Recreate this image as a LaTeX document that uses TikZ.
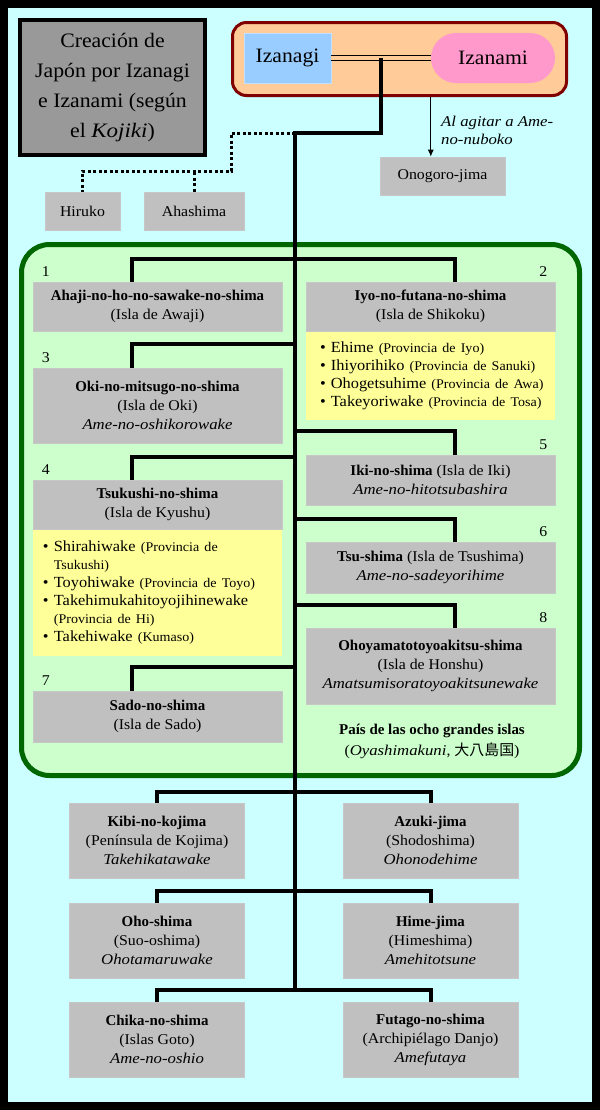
\documentclass[tikz,border=0pt]{standalone}
\usepackage{fontspec}
\setmainfont{Liberation Serif}[UprightFeatures={FakeStretch=1.06}, ItalicFeatures={FakeStretch=1.12}]
\newfontfamily\cjk{Noto Sans CJK JP}
\usetikzlibrary{positioning,arrows.meta}

\definecolor{fondo}{HTML}{CCFFFF}
\definecolor{gris}{HTML}{C0C0C0}
\definecolor{grisosc}{HTML}{999999}
\definecolor{naranja}{HTML}{FFCC99}
\definecolor{granate}{HTML}{800000}
\definecolor{azul}{HTML}{99CCFF}
\definecolor{rosa}{HTML}{FF99CC}
\definecolor{verde}{HTML}{CCFFCC}
\definecolor{verdeosc}{HTML}{006600}
\definecolor{amarillo}{HTML}{FFFF99}

\newcommand\prov[1]{{\fontsize{13.3}{18}\selectfont #1}}
\newcommand\vineta{\textbullet\ }

\tikzset{
	isla/.style={fill=gris, draw=black!22, line width=0.8bp, align=center, inner sep=2bp, font=\fontsize{15}{19}\selectfont},
	izq/.style={isla, minimum width=249bp},
	der/.style={isla, minimum width=249bp},
	abajo/.style={isla, minimum width=175bp, minimum height=75bp},
	lista/.style={fill=amarillo, text width=233bp, inner xsep=8bp, inner ysep=0bp, align=left, font=\fontsize{15.5}{18}\selectfont},
	num/.style={inner sep=0pt, font=\fontsize{15}{15}\selectfont},
	rama/.style={line width=4bp},
	punteo/.style={line width=3bp, dash pattern=on 3bp off 2.5bp},
	dios/.style={minimum height=50bp, inner sep=0pt, font=\fontsize{20.5}{24}\selectfont}
}

\begin{document}
\begin{tikzpicture}[x=1bp, y=-1bp]
	% marco
	\useasboundingbox (0,0) rectangle (600,1110);
	\fill [black] (0,0) rectangle (600,1110);
	\fill [fondo] (8,8) rectangle (592,1102);

	% titulo
	\node [fill=grisosc, draw=black, line width=4bp, minimum width=185bp, minimum height=135bp, align=center, font=\fontsize{20.6}{30}\selectfont] (tit) at (112.5,87.5) {Creación de\\Japón por Izanagi\\e Izanami (según\\el \textit{Kojiki})};

	% pareja
	\node [fill=naranja, draw=granate, line width=3bp, rounded corners=14bp, minimum width=334bp, minimum height=73bp] (par) at (399.5,59) {};
	\node [dios, fill=azul, draw=azul!60!white, line width=0.8bp, minimum width=87bp] (nagi) at (287.5,58) {Izanagi};
	\node [dios, fill=rosa, rounded corners=25bp, minimum width=124bp] (nami) at (493,58) {Izanami};
	\draw [line width=1.3bp, double=naranja, double distance=3.5bp] (nagi) -- (nami);

	% Onogoro-jima
	\node [isla, minimum width=125bp, minimum height=38bp] (ono) at (442.5,176) {Onogoro-jima};
	\draw [-{Latex[length=7bp,width=6bp]}, line width=0.8bp] (par.south -| nami.west) -- (ono.north -| nami.west);
	\node [anchor=north west, align=left, inner sep=0pt, font=\itshape\fontsize{15}{18}\selectfont] (agitar) at (441,116) {Al agitar a Ame-\\no-nuboko};

	% Hiruko y Ahashima
	\node [isla, minimum width=75bp, minimum height=38bp] (hir) at (82.5,211) {Hiruko};
	\node [isla, minimum width=100bp, minimum height=38bp] (aha) at (194,211) {Ahashima};

	% pais de las ocho grandes islas
	\draw [verdeosc, fill=verde, line width=5bp, rounded corners=28bp] (21.5,244.5) rectangle (579.5,775.5);

	% tronco
	\coordinate (boda) at (381,58);
	\coordinate (codo) at (295,133);
	\coordinate (t12) at (295,259);
	\coordinate (t3) at (295,344);
	\coordinate (t5) at (295,431);
	\coordinate (t4) at (295,457);
	\coordinate (t6) at (295,519);
	\coordinate (t8) at (295,605);
	\coordinate (t7) at (295,667);
	\coordinate (tA) at (295,792);
	\coordinate (tB) at (295,891);
	\coordinate (tC) at (295,990);
	\draw [rama] (boda) |- (codo) -- (tC);

	% hijos fallidos
	\coordinate (pt) at (231,171);
	\draw [punteo] (codo) -| (pt) -| (hir);
	\draw [punteo] (aha) -- (aha |- pt);

	% isla 1
	\node [izq, minimum height=49bp] (b1) at (157.5,306.5) {\textbf{Ahaji-no-ho-no-sawake-no-shima}\\(Isla de Awaji)};
	\node [num, above right=5bp and 9bp of b1.north west] (n1) {1};
	\draw [rama] (t12) -| ([xshift=-25.5bp]b1.north);

	% isla 2
	\node [der, minimum height=49bp] (b2) at (430.5,306.5) {\textbf{Iyo-no-futana-no-shima}\\(Isla de Shikoku)};
	\node [lista, minimum height=88bp, below=0pt of b2] (l2) {\hspace*{6bp}\vineta Ehime \prov{(Provincia de Iyo)}\\\hspace*{6bp}\vineta Ihiyorihiko \prov{(Provincia de Sanuki)}\\\hspace*{6bp}\vineta Ohogetsuhime \prov{(Provincia de Awa)}\\\hspace*{6bp}\vineta Takeyoriwake \prov{(Provincia de Tosa)}};
	\node [num, above left=5bp and 8bp of b2.north east] (n2) {2};
	\draw [rama] (t12) -| ([xshift=24.5bp]b2.north);

	% isla 3
	\node [izq, minimum height=75bp] (b3) at (157.5,405.5) {\textbf{Oki-no-mitsugo-no-shima}\\(Isla de Oki)\\\textit{Ame-no-oshikorowake}};
	\node [num, above right=5bp and 9bp of b3.north west] (n3) {3};
	\draw [rama] (t3) -| ([xshift=-25.5bp]b3.north);

	% isla 5
	\node [der, minimum height=50bp] (b5) at (430.5,480) {\textbf{Iki-no-shima} (Isla de Iki)\\\textit{Ame-no-hitotsubashira}};
	\node [num, above left=5bp and 8bp of b5.north east] (n5) {5};
	\draw [rama] (t5) -| ([xshift=24.5bp]b5.north);

	% isla 4
	\node [izq, minimum height=49bp] (b4) at (157.5,504.5) {\textbf{Tsukushi-no-shima}\\(Isla de Kyushu)};
	\node [lista, minimum height=126bp, below=0pt of b4] (l4) {\hspace*{2bp}\vineta Shirahiwake \prov{(Provincia de}\\\hspace*{2bp}\phantom{\vineta}\prov{Tsukushi)}\\\hspace*{2bp}\vineta Toyohiwake \prov{(Provincia de Toyo)}\\\hspace*{2bp}\vineta Takehimukahitoyojihinewake\\\hspace*{2bp}\phantom{\vineta}\prov{(Provincia de Hi)}\\\hspace*{2bp}\vineta Takehiwake \prov{(Kumaso)}};
	\node [num, above right=5bp and 9bp of b4.north west] (n4) {4};
	\draw [rama] (t4) -| ([xshift=-25.5bp]b4.north);

	% isla 6
	\node [der, minimum height=51bp] (b6) at (430.5,567.5) {\textbf{Tsu-shima} (Isla de Tsushima)\\\textit{Ame-no-sadeyorihime}};
	\node [num, above left=5bp and 8bp of b6.north east] (n6) {6};
	\draw [rama] (t6) -| ([xshift=24.5bp]b6.north);

	% isla 8
	\node [der, minimum height=76bp] (b8) at (430.5,666) {\textbf{Ohoyamatotoyoakitsu-shima}\\(Isla de Honshu)\\\textit{Amatsumisoratoyoakitsunewake}};
	\node [num, above left=5bp and 8bp of b8.north east] (n8) {8};
	\draw [rama] (t8) -| ([xshift=24.5bp]b8.north);

	% isla 7
	\node [izq, minimum height=51bp] (b7) at (157.5,716.5) {\textbf{Sado-no-shima}\\(Isla de Sado)};
	\node [num, above right=5bp and 9bp of b7.north west] (n7) {7};
	\draw [rama] (t7) -| ([xshift=-25.5bp]b7.north);

	\node [align=center, font=\fontsize{15}{21}\selectfont] (ocho) at (432,741) {\textbf{País de las ocho grandes islas}\\(\textit{Oyashimakuni}, {\cjk 大八島国})};

	% islas menores
	\node [abajo] (kibi) at (157,840.5) {\textbf{Kibi-no-kojima}\\(Península de Kojima)\\\textit{Takehikatawake}};
	\node [abajo] (azuki) at (430.5,840.5) {\textbf{Azuki-jima}\\(Shodoshima)\\\textit{Ohonodehime}};
	\draw [rama] (tA) -| (kibi);
	\draw [rama] (tA) -| (azuki);

	\node [abajo] (oho) at (157,940.5) {\textbf{Oho-shima}\\(Suo-oshima)\\\textit{Ohotamaruwake}};
	\node [abajo] (hime) at (430.5,940.5) {\textbf{Hime-jima}\\(Himeshima)\\\textit{Amehitotsune}};
	\draw [rama] (tB) -| (oho);
	\draw [rama] (tB) -| (hime);

	\node [abajo] (chika) at (157,1039.5) {\textbf{Chika-no-shima}\\(Islas Goto)\\\textit{Ame-no-oshio}};
	\node [abajo] (futago) at (430.5,1039.5) {\textbf{Futago-no-shima}\\(Archipiélago Danjo)\\\textit{Amefutaya}};
	\draw [rama] (tC) -| (chika);
	\draw [rama] (tC) -| (futago);
\end{tikzpicture}
\end{document}
